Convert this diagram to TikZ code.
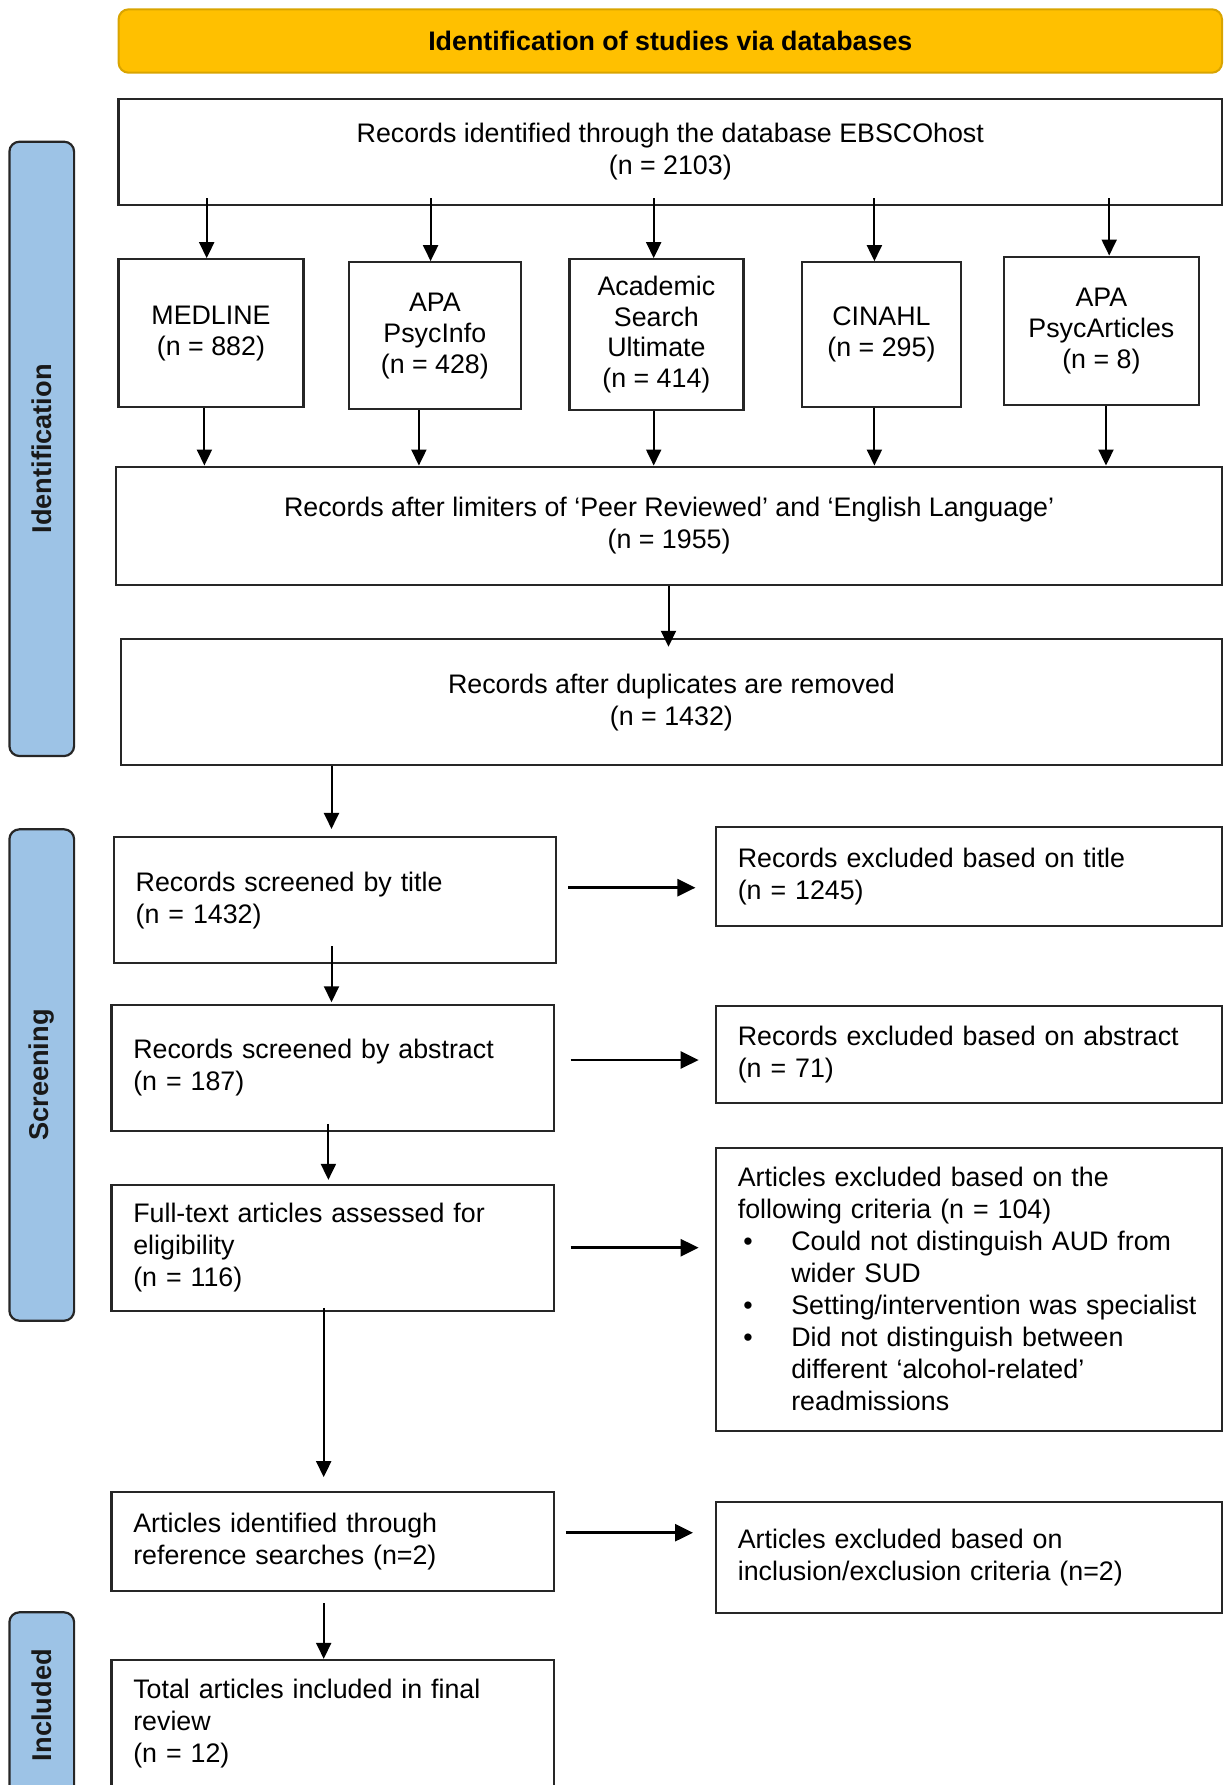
\documentclass[tikz,border=0pt]{standalone}
\usepackage{fontspec}
\setmainfont{Liberation Sans}
\usetikzlibrary{arrows.meta}
\definecolor{titlegold}{HTML}{FFC000}
\definecolor{titleedge}{HTML}{D9A400}
\definecolor{sideblue}{HTML}{9DC3E6}
\definecolor{edgegray}{HTML}{262626}
\newcommand\fsz{\fontsize{13.4}{16}\selectfont}
\newcommand\fszdb{\fontsize{13.4}{15.4}\selectfont}
\tikzset{
  box/.style={draw=edgegray, line width=1.15pt, fill=white, inner sep=0pt, font=\fsz},
  cbox/.style={box, align=center},
  dbbox/.style={box, align=center, font=\fszdb},
  lbox/.style={box, align=left, inner xsep=10.9pt, text width=199.35pt},
  rbox/.style={box, align=left, inner xsep=10.9pt, text width=231.2pt},
  sidelabel/.style={draw=edgegray, line width=1.1pt, fill=sideblue, rounded corners=5pt,
    rotate=90, inner sep=0pt, minimum height=32.35pt, text=black!90,
    font=\bfseries\fontsize{13.6}{16}\selectfont},
  varr/.style={draw=black, line width=1pt, -{Triangle[length=8pt,width=7.5pt]}},
  harr/.style={draw=black, line width=1.3pt, -{Triangle[length=9pt,width=8.5pt]}}
}
\begin{document}
\begin{tikzpicture}[x=0.5pt, y=-0.5pt]
\useasboundingbox (0,0) rectangle (1223,1785);
\clip (0,0) rectangle (1223,1785);

% title bar
\node[draw=titleedge, line width=1pt, fill=titlegold, rounded corners=5pt,
  minimum width=551.7pt, minimum height=31.7pt, inner sep=0pt,
  font=\bfseries\fsz] (title) at (670.3,41) {Identification of studies via databases};

% side labels
\node[sidelabel, minimum width=307.15pt] (sid) at (41.75,448.85) {Identification};
\node[sidelabel, minimum width=245.7pt] (ssc) at (41.75,1075) {Screening};
\node[sidelabel, minimum width=92.85pt] (sin) at (41.75,1705.15) {Included};

% identification boxes
\node[cbox, minimum width=551.7pt, minimum height=53pt] (src) at (670.3,152)
  {Records identified through the database EBSCOhost\\(n = 2103)};
\node[dbbox, minimum width=92.4pt, minimum height=74pt] (med) at (211,333.3)
  {MEDLINE\\(n = 882)};
\node[dbbox, minimum width=86.15pt, minimum height=73.5pt] (psi) at (434.85,335.8)
  {APA\\PsycInfo\\(n = 428)};
\node[dbbox, minimum width=87pt, minimum height=75.35pt] (asu) at (656.4,334.65)
  {Academic\\Search\\Ultimate\\(n = 414)};
\node[dbbox, minimum width=79.55pt, minimum height=72.5pt] (cin) at (881.45,334.8)
  {CINAHL\\(n = 295)};
\node[dbbox, minimum width=97.5pt, minimum height=74.15pt] (pa) at (1101.4,330.85)
  {APA\\PsycArticles\\(n = 8)};
\node[cbox, minimum width=552.9pt, minimum height=59.15pt] (lim) at (669.1,525.85)
  {Records after limiters of ‘Peer Reviewed’ and ‘English Language’\\(n = 1955)};
\node[cbox, minimum width=550.55pt, minimum height=62.85pt] (dup) at (671.45,702.15)
  {Records after duplicates are removed\\(n = 1432)};

% screening boxes
\node[lbox, minimum width=221.15pt, minimum height=63pt] (scrT) at (335.05,900.3)
  {Records screened by title\\(n = 1432)};
\node[rbox, minimum width=253pt, minimum height=49.2pt] (exT) at (969,876.5)
  {Records excluded based on title\\(n = 1245)};
\node[lbox, minimum width=221.15pt, minimum height=62.85pt] (scrA) at (332.65,1067.85)
  {Records screened by abstract\\(n = 187)};
\node[rbox, minimum width=253pt, minimum height=48.5pt] (exA) at (969,1054.2)
  {Records excluded based on abstract\\(n = 71)};
\node[lbox, minimum width=221.15pt, minimum height=62.85pt] (full) at (332.65,1247.85)
  {\mbox{Full-text articles assessed for}\\eligibility\\(n = 116)};
\node[rbox, minimum width=253pt, minimum height=141.5pt] (crit) at (969,1289.2)
  {\mbox{Articles excluded based on the}\\
   \mbox{following criteria (n = 104)}\\
   \mbox{\hspace*{2.8pt}\makebox[23.95pt][l]{\textbullet}Could not distinguish AUD from}\\
   \mbox{\hspace*{26.75pt}wider SUD}\\
   \mbox{\hspace*{2.8pt}\makebox[23.95pt][l]{\textbullet}Setting/intervention was specialist}\\
   \mbox{\hspace*{2.8pt}\makebox[23.95pt][l]{\textbullet}Did not distinguish between}\\
   \mbox{\hspace*{26.75pt}different ‘alcohol-related’}\\
   \mbox{\hspace*{26.75pt}readmissions}};
\node[lbox, minimum width=221.15pt, minimum height=49.2pt] (ref) at (332.65,1541.5)
  {\mbox{Articles identified through}\\\mbox{reference searches (n=2)}};
\node[rbox, minimum width=253pt, minimum height=55.2pt] (exI) at (969,1557.5)
  {\mbox{Articles excluded based on}\\\mbox{inclusion/exclusion criteria (n=2)}};
\node[lbox, minimum width=221.15pt, minimum height=64pt] (tot) at (332.65,1724)
  {\mbox{Total articles included in final}\\review\\(n = 12)};

% arrow columns
\coordinate (a1) at (206.7,0);
\coordinate (a2) at (430.6,0);
\coordinate (a3) at (653.7,0);
\coordinate (a4) at (874.4,0);
\coordinate (a5) at (1109.2,0);
\coordinate (b1) at (204.4,0);
\coordinate (b2) at (418.9,0);
\coordinate (b3) at (653.7,0);
\coordinate (b4) at (874.4,0);
\coordinate (b5) at (1106,0);
\coordinate (c1) at (668.5,0);
\coordinate (c2) at (331.5,0);
\coordinate (c3) at (328.4,0);
\coordinate (c4) at (323.7,0);
\coordinate (h1) at (0,887.7);
\coordinate (h2) at (0,1060);
\coordinate (h3) at (0,1247.7);
\coordinate (h4) at (0,1532.7);

% source to databases
\draw[varr, shorten <=-4pt] (a1 |- src.south) -- (a1 |- med.north);
\draw[varr, shorten <=-4pt] (a2 |- src.south) -- (a2 |- psi.north);
\draw[varr, shorten <=-4pt] (a3 |- src.south) -- (a3 |- asu.north);
\draw[varr, shorten <=-4pt] (a4 |- src.south) -- (a4 |- cin.north);
\draw[varr, shorten <=-4pt] (a5 |- src.south) -- (a5 |- pa.north);
% databases to limiters
\draw[varr] (b1 |- med.south) -- (b1 |- lim.north);
\draw[varr] (b2 |- psi.south) -- (b2 |- lim.north);
\draw[varr] (b3 |- asu.south) -- (b3 |- lim.north);
\draw[varr] (b4 |- cin.south) -- (b4 |- lim.north);
\draw[varr] (b5 |- pa.south) -- (b5 |- lim.north);
% main column
\draw[varr, shorten >=-4.3pt] (c1 |- lim.south) -- (c1 |- dup.north);
\draw[varr, shorten >=3.6pt] (c2 |- dup.south) -- (c2 |- scrT.north);
\draw[varr, shorten <=-9.1pt, shorten >=0.8pt] (c2 |- scrT.south) -- (c2 |- scrA.north);
\draw[varr, shorten <=-4pt, shorten >=2pt] (c3 |- scrA.south) -- (c3 |- full.north);
\draw[varr, shorten <=-2pt, shorten >=7pt] (c4 |- full.south) -- (c4 |- ref.north);
\draw[varr, shorten <=5.8pt] (c4 |- ref.south) -- (c4 |- tot.north);
% exclusions
\draw[harr, shorten <=5.4pt, shorten >=9.7pt] (scrT.east |- h1) -- (exT.west |- h1);
\draw[harr, shorten <=7.8pt, shorten >=8.1pt] (scrA.east |- h2) -- (exA.west |- h2);
\draw[harr, shorten <=7.8pt, shorten >=8.1pt] (full.east |- h3) -- (crit.west |- h3);
\draw[harr, shorten <=5.4pt, shorten >=10.9pt] (ref.east |- h4) -- (exI.west |- h4);
\end{tikzpicture}
\end{document}
